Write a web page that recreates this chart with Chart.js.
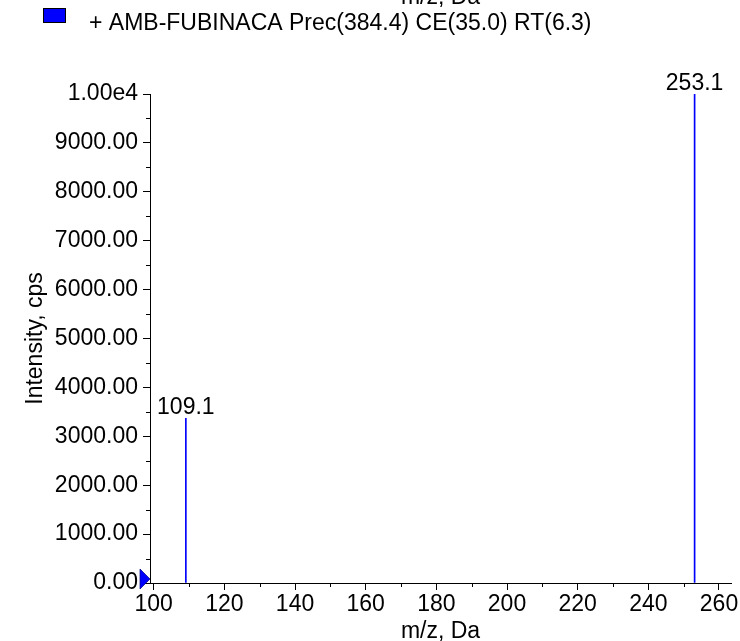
<!DOCTYPE html>
<html>
<head>
<meta charset="utf-8">
<script src="https://cdn.jsdelivr.net/npm/chart.js@4.4.0/dist/chart.umd.min.js"></script>
<style>
  html, body { margin: 0; padding: 0; background: #fff; }
  #wrap { width: 740px; height: 641px; }
</style>
</head>
<body>
<div id="wrap"><canvas id="spectrum" width="740" height="641"></canvas></div>
<script>
// ---------------- DATA ----------------
const peakMz = [109.1, 253.1];
const peakIntensity = [3370, 10000];
const peakLabels = ["109.1", "253.1"];

const xTicks = [100, 120, 140, 160, 180, 200, 220, 240, 260];
const yTicks = [0, 1000, 2000, 3000, 4000, 5000, 6000, 7000, 8000, 9000, 10000];
const yTickLabels = ["0.00", "1000.00", "2000.00", "3000.00", "4000.00", "5000.00",
  "6000.00", "7000.00", "8000.00", "9000.00", "1.00e4"];

const legendText = "+ AMB-FUBINACA Prec(384.4) CE(35.0) RT(6.3)";
const xTitle = "m/z, Da";
const yTitle = "Intensity, cps";

const xMin = 98.95, xMax = 263.4;
const yMin = 0, yMax = 10000;

// ---------------- STYLE ----------------
const FONT = "Liberation Sans, Arial, sans-serif";
const FSIZE = 23;
const BLUE = "#0000ff";

Chart.defaults.font.family = FONT;
Chart.defaults.font.size = FSIZE;
Chart.defaults.color = "#000";

// minor ticks, peak labels, legend and marker drawn on top
const extras = {
  id: "extras",
  afterDraw(chart) {
    const ctx = chart.ctx;
    const x = chart.scales.x, y = chart.scales.y;
    ctx.save();

    // minor ticks
    ctx.strokeStyle = "#000";
    ctx.lineWidth = 1;
    ctx.beginPath();
    for (let i = 0; i < yTicks.length - 1; i++) {
      const v = (yTicks[i] + yTicks[i + 1]) / 2;
      const py = Math.round(y.getPixelForValue(v)) + 0.5;
      ctx.moveTo(x.left - 4, py);
      ctx.lineTo(x.left, py);
    }
    for (let i = 0; i < xTicks.length; i++) {
      const v = xTicks[i] + (xTicks[1] - xTicks[0]) / 2;
      if (v > xMax) break;
      const px = Math.round(x.getPixelForValue(v)) + 0.5;
      ctx.moveTo(px, y.bottom);
      ctx.lineTo(px, y.bottom + 4);
    }
    ctx.stroke();

    // peak labels
    ctx.font = FSIZE + "px " + FONT;
    ctx.fillStyle = "#000";
    ctx.textAlign = "center";
    ctx.textBaseline = "alphabetic";
    chart.getDatasetMeta(0).data.forEach((bar, i) => {
      ctx.fillText(peakLabels[i], bar.x, bar.y - 4);
    });

    // cut-off axis title of the panel above
    ctx.fillText(xTitle, (x.left + x.right) / 2, 3.5);

    // legend
    ctx.fillStyle = BLUE;
    ctx.fillRect(43, 8, 23, 15);
    ctx.strokeStyle = "#000";
    ctx.strokeRect(43.5, 8.5, 22, 14);
    ctx.fillStyle = "#000";
    ctx.textAlign = "left";
    ctx.fillText(legendText, 89, 29.5);

    // blue marker at the origin
    const x0 = x.left, y0 = y.getPixelForValue(0);
    ctx.beginPath();
    ctx.moveTo(x0 - 10, y0 - 14);
    ctx.lineTo(x0 - 10, y0 + 6);
    ctx.lineTo(x0, y0 - 4);
    ctx.closePath();
    ctx.fillStyle = BLUE;
    ctx.fill();
    ctx.strokeStyle = "#000080";
    ctx.lineWidth = 0.7;
    ctx.stroke();

    ctx.restore();
  }
};

// ---------------- SPECTRUM ----------------
new Chart(document.getElementById("spectrum"), {
  type: "bar",
  data: {
    datasets: [{
      data: peakMz.map((m, i) => ({ x: m, y: peakIntensity[i] })),
      backgroundColor: BLUE,
      borderWidth: 0,
      barThickness: 1
    }]
  },
  options: {
    responsive: false,
    animation: false,
    layout: { padding: { top: 94, right: 9, left: 0, bottom: 0 } },
    plugins: {
      legend: { display: false },
      tooltip: { enabled: false }
    },
    scales: {
      x: {
        type: "linear",
        min: xMin,
        max: xMax,
        offset: false,
        afterBuildTicks: (s) => { s.ticks = xTicks.map(v => ({ value: v })); },
        afterFit: (s) => { s.height = 58; },
        ticks: { padding: 1, maxRotation: 0, autoSkip: false },
        grid: { drawOnChartArea: false, tickLength: 7, tickColor: "#000", offset: false },
        border: { color: "#000", width: 1 },
        title: { display: true, text: xTitle, padding: { top: 0, bottom: -4 } }
      },
      y: {
        min: yMin,
        max: yMax,
        afterBuildTicks: (s) => { s.ticks = yTicks.map(v => ({ value: v })); },
        afterFit: (s) => { s.width = 150; },
        ticks: {
          padding: 5,
          autoSkip: false,
          callback: (v) => yTickLabels[yTicks.indexOf(v)]
        },
        grid: { drawOnChartArea: false, tickLength: 7, tickColor: "#000" },
        border: { color: "#000", width: 1 },
        title: { display: true, text: yTitle, padding: { top: 22, bottom: 0 } }
      }
    }
  },
  plugins: [extras]
});
</script>
</body>
</html>
